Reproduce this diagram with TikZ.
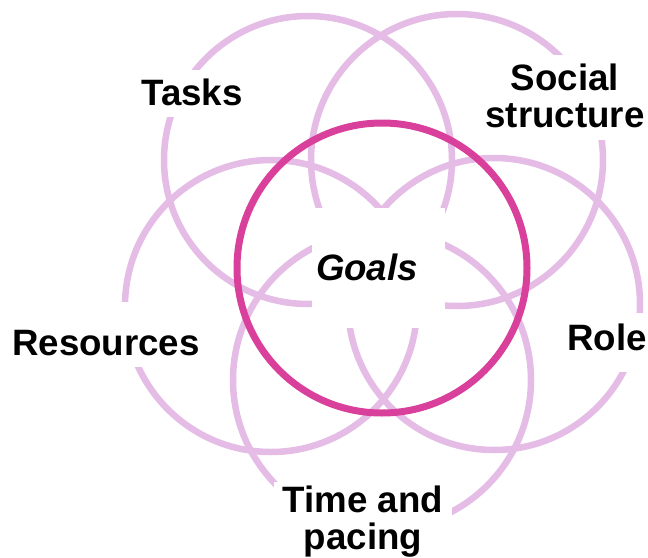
\documentclass[tikz,border=0pt]{standalone}
\usepackage{fontspec}
\setmainfont{Liberation Sans}
\usepackage{tikz, xcolor}

\definecolor{ringpink}{RGB}{228,188,229}
\definecolor{goalpink}{RGB}{217,64,155}

\tikzset{
  ring/.style={draw=ringpink, line width=6.5pt},
  goalring/.style={draw=goalpink, line width=7pt},
  cutout/.style={fill=white},
  lbl/.style={anchor=base, inner sep=0pt, align=center,
    font=\fontsize{36.7pt}{37pt}\selectfont\bfseries}
}

\begin{document}
\begin{tikzpicture}[x=1pt, y=-1pt]
    \useasboundingbox (0,0) rectangle (648,557);

    \draw [ring] (308,160) circle (144pt);
    \draw [ring] (457,160) circle (146pt);
    \draw [ring] (271,306) circle (146pt);
    \draw [ring] (494,304) circle (146pt);
    \draw [ring] (382,380) circle (149pt);

    \fill [cutout] (312,208) rectangle (445,328);
    \fill [cutout] (128,70) rectangle (256,117);
    \fill [cutout] (478,55) rectangle (648,140);
    \fill [cutout] (0,302) rectangle (212,367);
    \fill [cutout] (560,313) rectangle (648,372);
    \fill [cutout] (274,482) rectangle (452,557);

    \draw [goalring] (382,268) circle (145pt);

    \node [lbl, font=\fontsize{36.7pt}{37pt}\selectfont\bfseries\itshape] (goals) at (367,280) {Goals};
    \node [lbl] (tasks) at (192,105) {Tasks};
    \node [lbl] (social) at (565,127) {Social\\structure};
    \node [lbl] (resources) at (106,355) {Resources};
    \node [lbl] (role) at (607,350) {Role};
    \node [lbl] (time) at (363,549) {Time and\\pacing};

  \end{tikzpicture}
\end{document}
